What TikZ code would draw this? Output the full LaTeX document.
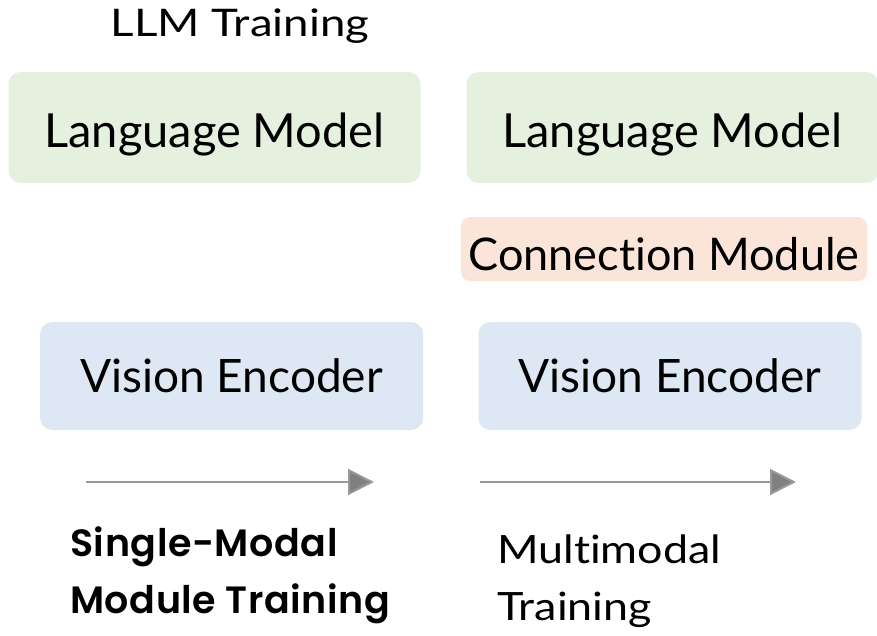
\documentclass[tikz,border=0pt]{standalone}
\usepackage{fontspec}
\setmainfont{Lato}[Ligatures=NoCommon]
\newfontfamily\widefont{Lato}[FakeStretch=1.2, Ligatures=NoCommon]
\newfontfamily\capfont{Lato}[FakeStretch=1.15, Ligatures=NoCommon]
\newfontfamily\boldfont{Poppins}[UprightFont=* SemiBold, LetterSpace=1.5]
\usetikzlibrary{arrows.meta}
\definecolor{lmgreen}{HTML}{E5F0DF}
\definecolor{cmpeach}{HTML}{FBE5D9}
\definecolor{veblue}{HTML}{DDE8F4}
\definecolor{arrgray}{HTML}{808080}
\tikzset{
  block/.style={rounded corners=12pt, inner sep=0pt, text=black, text depth=0pt},
  lmbox/.style={block, fill=lmgreen, minimum width=412pt, minimum height=111pt,
    font=\fontsize{47}{50}\selectfont, text height=41pt},
  vebox/.style={block, fill=veblue, minimum width=383pt, minimum height=108pt,
    font=\fontsize{46}{50}\selectfont, text height=32pt},
  cmbox/.style={block, fill=cmpeach, minimum width=406pt, minimum height=64pt,
    rounded corners=9pt, font=\fontsize{45}{50}\selectfont, text height=42pt},
  stage/.style={draw=arrgray!80, line width=2pt, -{Triangle[length=26pt,width=26pt,fill=arrgray]}, shorten >=-1pt},
  caption/.style={anchor=base west, inner sep=0pt}
}
\begin{document}
\begin{tikzpicture}[x=1pt,y=-1pt]
  \useasboundingbox (0,0) rectangle (877,636);
  % column title
  \node[anchor=base, inner sep=0pt, font=\widefont\fontsize{38}{44}\selectfont] (title) at (240,37) {LLM Training};
  % left column: single-modal training
  \node[lmbox] (lmL) at (214.5,127.5) {Language Model};
  \node[vebox] (veL) at (231.5,376) {Vision Encoder};
  % right column: multimodal training
  \node[lmbox] (lmR) at (672.5,127.5) {Language Model};
  \node[cmbox] (cm) at (664,249) {Connection Module};
  \node[vebox] (veR) at (670,376) {Vision Encoder};
  % stage arrows
  \coordinate (a1s) at (86,482);
  \coordinate (a1e) at (373,482);
  \coordinate (a2s) at (480,482);
  \coordinate (a2e) at (795,482);
  \draw[stage] (a1s) -- (a1e);
  \draw[stage] (a2s) -- (a2e);
  % stage captions
  \node[caption, font=\boldfont\fontsize{38}{44}\selectfont] (capL1) at (70,556) {Single-Modal};
  \node[caption, font=\boldfont\fontsize{38}{44}\selectfont] (capL2) at (70,613) {Module Training};
  \node[caption, font=\capfont\fontsize{39}{44}\selectfont] (capR1) at (497,563) {Multimodal};
  \node[caption, font=\capfont\fontsize{39}{44}\selectfont] (capR2) at (497,620) {Training};
\end{tikzpicture}
\end{document}
